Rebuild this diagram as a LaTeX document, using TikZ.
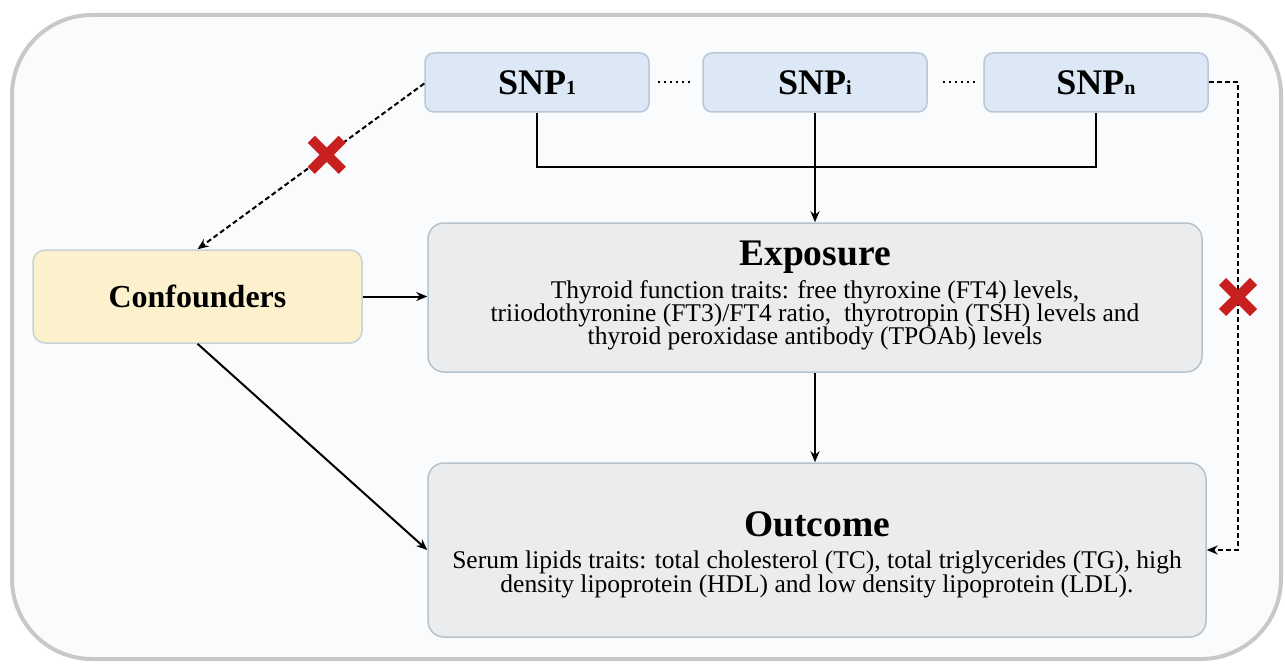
\documentclass[tikz,border=0pt]{standalone}
\usepackage{fontspec}
\setmainfont{Liberation Serif}
\usetikzlibrary{arrows.meta,shapes.misc}
\definecolor{outerbg}{RGB}{250,251,253}
\definecolor{outerline}{RGB}{200,200,200}
\definecolor{snpfill}{RGB}{220,232,245}
\definecolor{snpline}{RGB}{185,200,215}
\definecolor{grayfill}{RGB}{235,236,238}
\definecolor{grayline}{RGB}{180,195,205}
\definecolor{conffill}{RGB}{253,240,204}
\definecolor{confline}{RGB}{200,210,215}
\definecolor{xred}{RGB}{200,32,30}
\newcommand{\tightlines}{\lineskiplimit=-30pt\relax}
\newcommand{\expfont}{\fontsize{25.5}{23}\selectfont\tightlines}
\newcommand{\outfont}{\fontsize{25.5}{24}\selectfont\tightlines}
\tikzset{
  snpbox/.style={draw=snpline, fill=snpfill, line width=1.5pt, rounded corners=9pt, minimum width=224pt, minimum height=59pt, inner sep=0pt, font=\fontsize{36}{38}\selectfont\bfseries},
  graybox/.style={draw=grayline, fill=grayfill, line width=1.5pt, rounded corners=16pt, inner sep=0pt, align=center},
  txt/.style={inner sep=0pt, align=center},
  confbox/.style={draw=confline, fill=conffill, line width=1.5pt, rounded corners=12pt, minimum width=329pt, minimum height=93pt, inner sep=0pt, font=\fontsize{32}{34}\selectfont\bfseries},
  arr/.style={line width=2pt, -{Stealth[length=11pt,width=9pt]}},
  conn/.style={line width=2pt},
  dsh/.style={line width=2pt, dash pattern=on 5pt off 3pt},
  dots/.style={line width=2pt, dash pattern=on 2pt off 4pt},
  redx/.style={draw=xred, solid, cross out, line width=10pt, minimum size=21pt, inner sep=0pt}
}
\newcommand{\snpsub}[1]{{\fontsize{20}{20}\selectfont #1}}
\newcommand{\boxtitle}[1]{{\fontsize{37.5}{38}\selectfont\bfseries #1}}
\begin{document}
\begin{tikzpicture}[x=1pt,y=-1pt]
\useasboundingbox (0,0) rectangle (1285,666);
\draw[outerline, fill=outerbg, line width=4pt, rounded corners=80pt] (12,15) rectangle (1281,659);

\node[snpbox] (snp1) at (537,82.5) {SNP\snpsub{1}};
\node[snpbox] (snpi) at (815,82.5) {SNP\snpsub{i}};
\node[snpbox] (snpn) at (1096,82.5) {SNP\snpsub{n}};

\node[graybox, minimum width=774pt, minimum height=149pt] (exp) at (815,297.5) {};
\node[txt, font=\expfont] (exptxt) at ([yshift=2pt]exp.center) {\boxtitle{Exposure}\\[10pt]
Thyroid function traits: free thyroxine (FT4) levels,\\
triiodothyronine (FT3)/FT4 ratio,\ \ thyrotropin (TSH) levels and\\
thyroid peroxidase antibody (TPOAb) levels};

\node[graybox, minimum width=778pt, minimum height=174pt] (out) at (817,550) {};
\node[txt, font=\outfont] (outtxt) at ([yshift=-4.5pt]out.center) {\boxtitle{Outcome}\\[8pt]
Serum lipids traits: total cholesterol (TC), total triglycerides (TG), high\\
density lipoprotein (HDL) and low density lipoprotein (LDL).};

\node[confbox] (conf) at (197.5,296.5) {Confounders};

% dots between SNP boxes
\draw[dots] ([xshift=8pt]snp1.east) -- ([xshift=-9pt]snpi.west);
\draw[dots] ([xshift=15pt]snpi.east) -- ([xshift=-6pt]snpn.west);

% SNP bus
\coordinate (bus1) at (537,167);
\coordinate (busn) at (1096,167);
\draw[conn] (snp1.south) -- (bus1) -- (busn) -- (snpn.south);
\draw[arr] (snpi.south) -- (exp.north);

% exposure -> outcome
\draw[arr] (exp.south) -- (exp.south |- out.north);

% confounders
\draw[arr] (conf.east) -- (conf.east -| exp.west);
\draw[arr] (conf.south) -- (out.west);

% dashed SNP1 -> confounders
\draw[dsh, -{Stealth[length=11pt,width=9pt]}] ([yshift=-1pt]snp1.west) -- (conf.north) node[pos=0.43, redx] (x1) {};

% dashed SNPn -> outcome
\coordinate (rt) at (1238,82.5);
\draw[dsh, -{Stealth[length=11pt,width=9pt]}] (snpn.east) -- (rt) |- (out.east);
\node[redx] (x2) at (1238,297) {};
\end{tikzpicture}
\end{document}
